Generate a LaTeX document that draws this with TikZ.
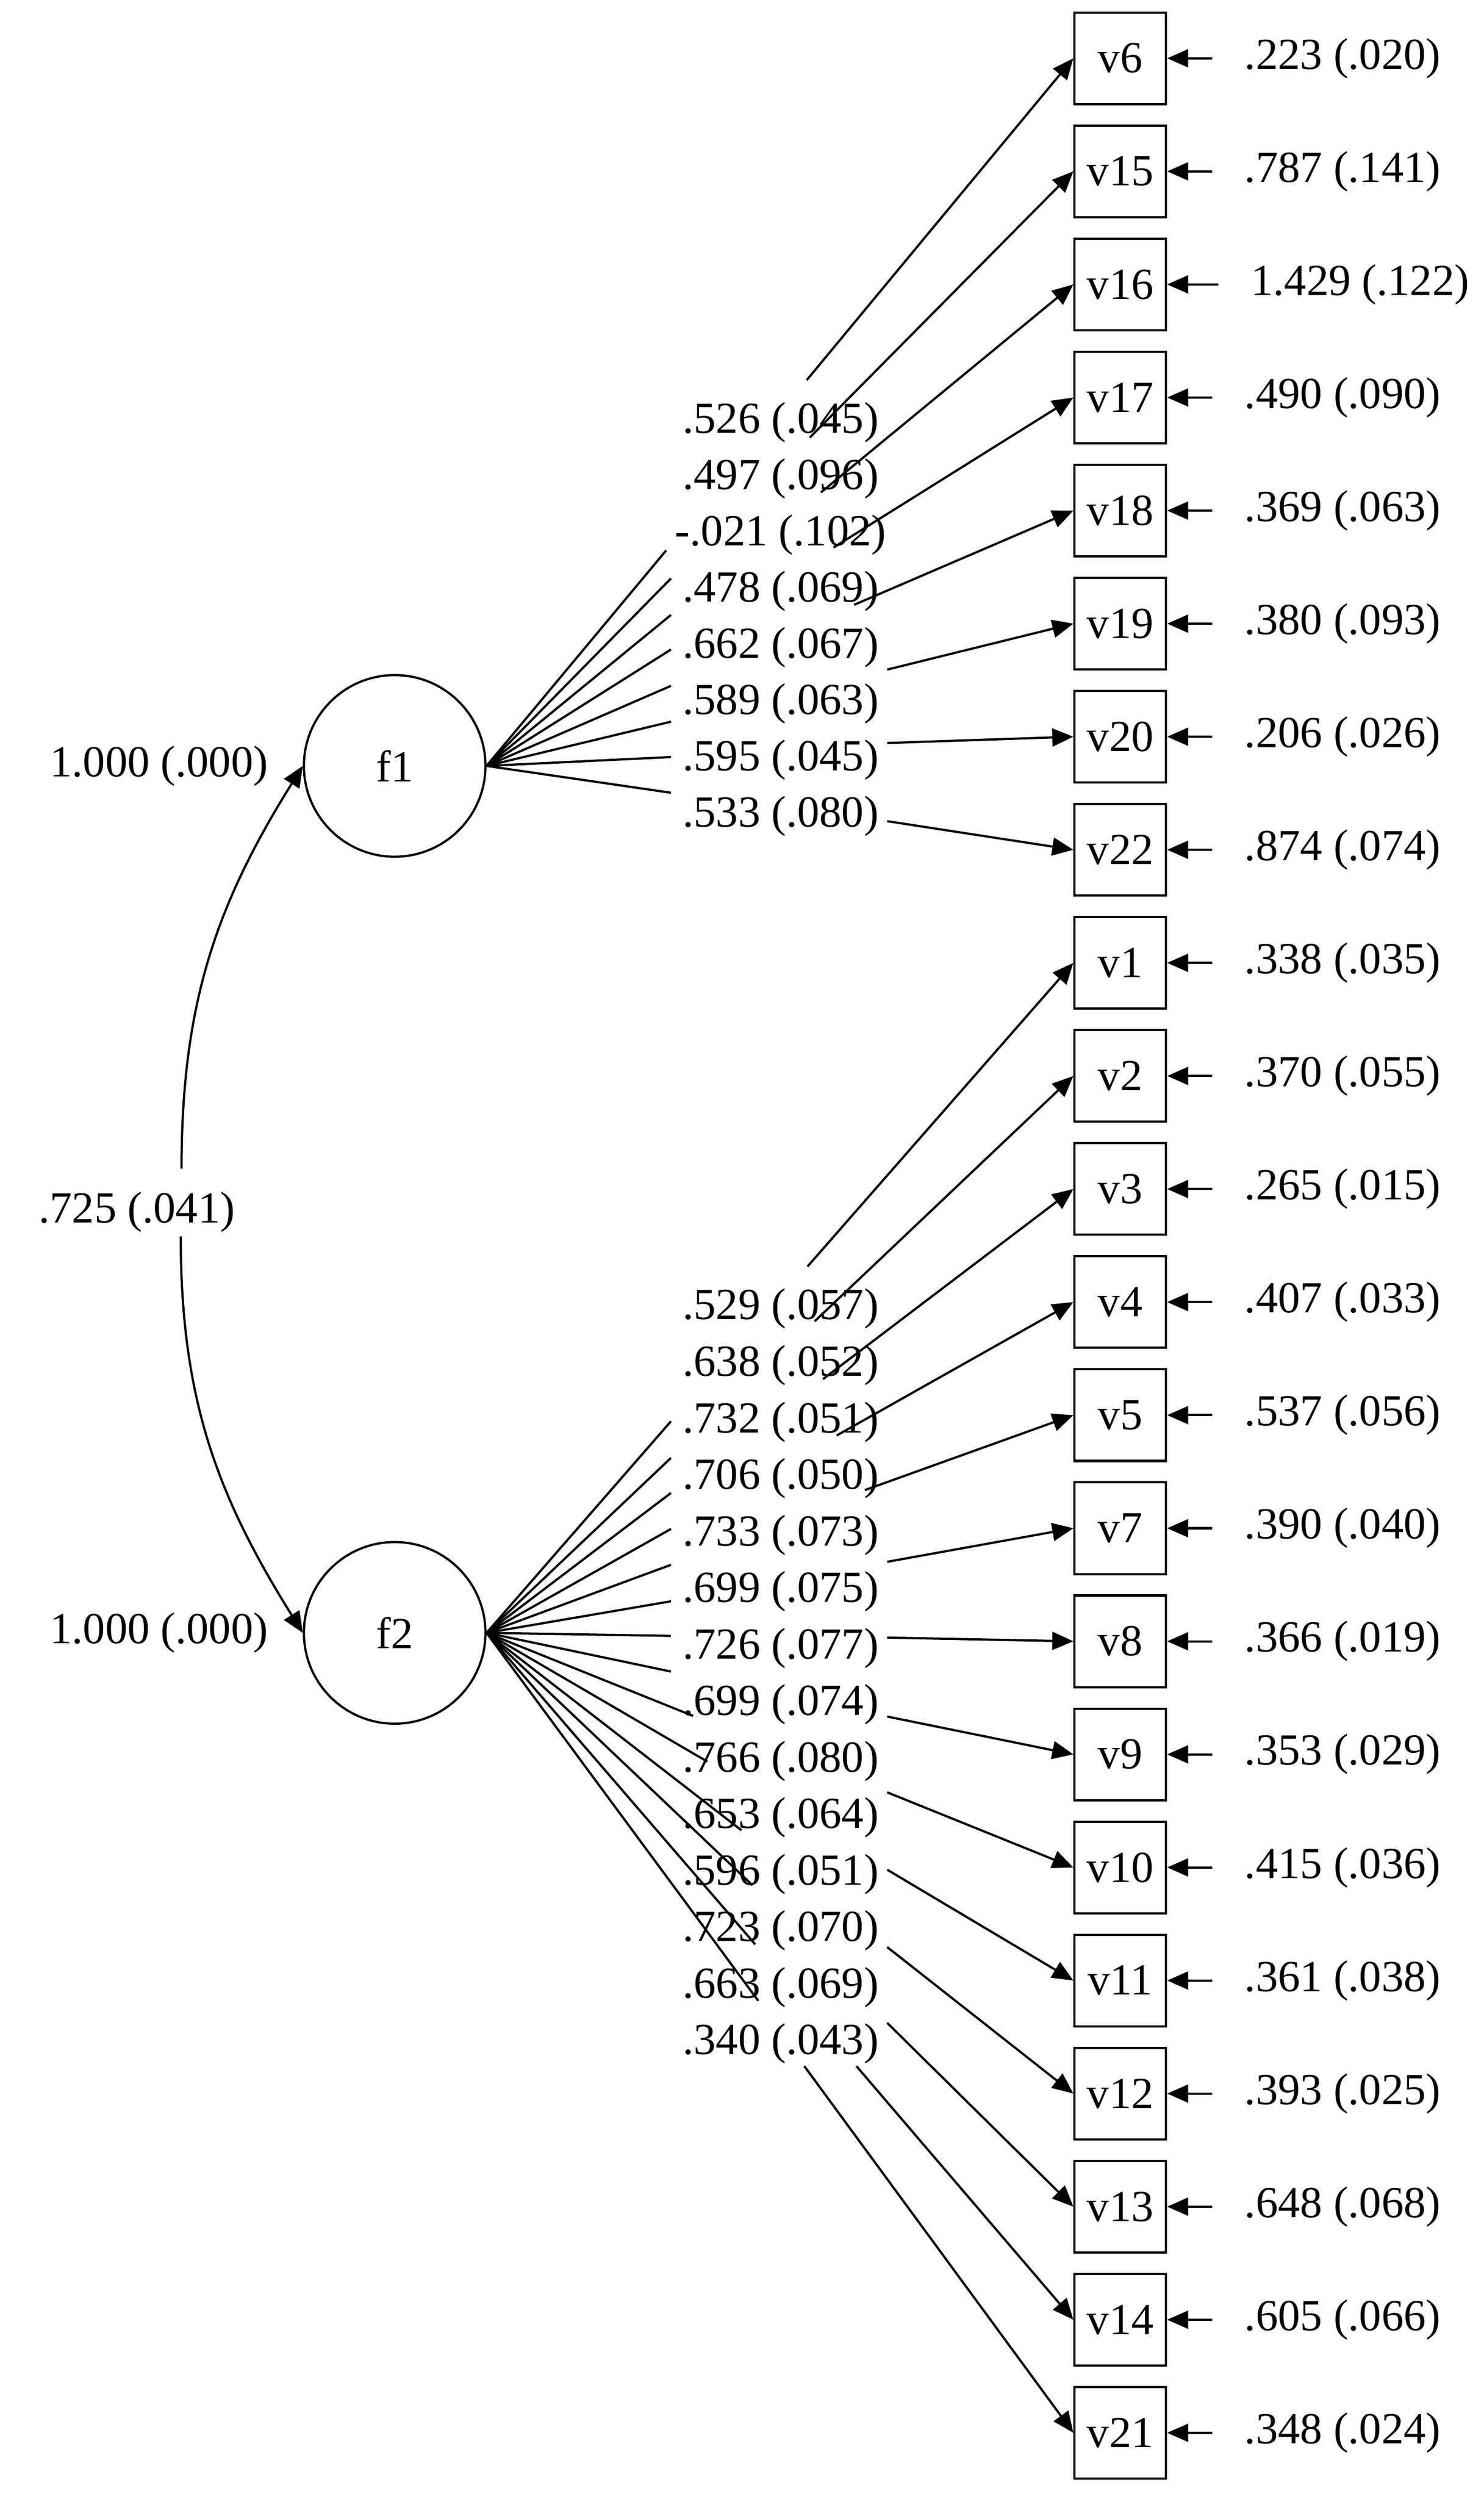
\documentclass[tikz,border=0pt]{standalone}
\usepackage{fontspec}
\setmainfont{Liberation Serif}
\usetikzlibrary{arrows.meta,positioning}

\begin{document}
\begin{tikzpicture}[->,>={Triangle[length=0.2cm,width=0.17cm]},x=0.015cm,y=0.015cm,
        line width=0.6pt,node distance=1.074cm,font=\fontsize{12}{14}\selectfont,
        obs/.style={draw,rectangle,minimum size=0.87cm,inner sep=0pt},
        lat/.style={draw,circle,minimum size=1.725cm,inner sep=0pt},
        est/.style={inner sep=0pt,outer sep=0pt}]

  \useasboundingbox (0,0) rectangle (940,-1582.5);

  % factors
  \node[lat] (f1) at (250,-485) {f1};
  \node[lat] (f2) at (250,-1034) {f2};
  \node[est] (var1) [left=0.33cm of f1] {1.000 (.000)};
  \node[est] (var2) [left=0.33cm of f2] {1.000 (.000)};

  \node[est] (cov) at (86.7,-767.5) {.725 (.041)};
  \coordinate (c1) at (115,-740);
  \coordinate (c2) at (114.5,-783);
  \draw[<-] (f1.west) to[out=238,in=90] (c1);
  \draw[<-] (f2.west) to[out=122,in=-90] (c2);

  % indicators
  \node[obs] (v6) at (709.6,-36.9) {v6};
  \node[obs] (v15) [below of=v6] {v15};
  \node[obs] (v16) [below of=v15] {v16};
  \node[obs] (v17) [below of=v16] {v17};
  \node[obs] (v18) [below of=v17] {v18};
  \node[obs] (v19) [below of=v18] {v19};
  \node[obs] (v20) [below of=v19] {v20};
  \node[obs] (v22) [below of=v20] {v22};
  \node[obs] (v1) [below of=v22] {v1};
  \node[obs] (v2) [below of=v1] {v2};
  \node[obs] (v3) [below of=v2] {v3};
  \node[obs] (v4) [below of=v3] {v4};
  \node[obs] (v5) [below of=v4] {v5};
  \node[obs] (v7) [below of=v5] {v7};
  \node[obs] (v8) [below of=v7] {v8};
  \node[obs] (v9) [below of=v8] {v9};
  \node[obs] (v10) [below of=v9] {v10};
  \node[obs] (v11) [below of=v10] {v11};
  \node[obs] (v12) [below of=v11] {v12};
  \node[obs] (v13) [below of=v12] {v13};
  \node[obs] (v14) [below of=v13] {v14};
  \node[obs] (v21) [below of=v14] {v21};

  % residual variances
  \node[est] (e6) [right=0.737cm of v6] {.223 (.020)};
  \node[est] (e15) [right=0.737cm of v15] {.787 (.141)};
  \node[est] (e16) [right=0.797cm of v16] {1.429 (.122)};
  \node[est] (e17) [right=0.737cm of v17] {.490 (.090)};
  \node[est] (e18) [right=0.737cm of v18] {.369 (.063)};
  \node[est] (e19) [right=0.737cm of v19] {.380 (.093)};
  \node[est] (e20) [right=0.737cm of v20] {.206 (.026)};
  \node[est] (e22) [right=0.737cm of v22] {.874 (.074)};
  \node[est] (e1) [right=0.737cm of v1] {.338 (.035)};
  \node[est] (e2) [right=0.737cm of v2] {.370 (.055)};
  \node[est] (e3) [right=0.737cm of v3] {.265 (.015)};
  \node[est] (e4) [right=0.737cm of v4] {.407 (.033)};
  \node[est] (e5) [right=0.737cm of v5] {.537 (.056)};
  \node[est] (e7) [right=0.737cm of v7] {.390 (.040)};
  \node[est] (e8) [right=0.737cm of v8] {.366 (.019)};
  \node[est] (e9) [right=0.737cm of v9] {.353 (.029)};
  \node[est] (e10) [right=0.737cm of v10] {.415 (.036)};
  \node[est] (e11) [right=0.737cm of v11] {.361 (.038)};
  \node[est] (e12) [right=0.737cm of v12] {.393 (.025)};
  \node[est] (e13) [right=0.737cm of v13] {.648 (.068)};
  \node[est] (e14) [right=0.737cm of v14] {.605 (.066)};
  \node[est] (e21) [right=0.737cm of v21] {.348 (.024)};

  \path[shorten <=0.31cm]
        (e6.west) edge (v6.east)   (e15.west) edge (v15.east)
        (e16.west) edge (v16.east) (e17.west) edge (v17.east)
        (e18.west) edge (v18.east) (e19.west) edge (v19.east)
        (e20.west) edge (v20.east) (e22.west) edge (v22.east)
        (e1.west) edge (v1.east)   (e2.west) edge (v2.east)
        (e3.west) edge (v3.east)   (e4.west) edge (v4.east)
        (e5.west) edge (v5.east)   (e7.west) edge (v7.east)
        (e8.west) edge (v8.east)   (e9.west) edge (v9.east)
        (e10.west) edge (v10.east) (e11.west) edge (v11.east)
        (e12.west) edge (v12.east) (e13.west) edge (v13.east)
        (e14.west) edge (v14.east) (e21.west) edge (v21.east);

  % loadings on f1
  \node[est] (l6) at (494.5,-267.6) {.526 (.045)};
  \node[est] (l15) at (494.5,-303.2) {.497 (.096)};
  \node[est] (l16) at (494.5,-338.8) {-.021 (.102)};
  \node[est] (l17) at (494.5,-374.4) {.478 (.069)};
  \node[est] (l18) at (494.5,-410) {.662 (.067)};
  \node[est] (l19) at (494.5,-445.6) {.589 (.063)};
  \node[est] (l20) at (494.5,-481.2) {.595 (.045)};
  \node[est] (l22) at (494.5,-516.8) {.533 (.080)};

  \coordinate (a6) at (422,-348.5);   \coordinate (b6) at (511,-240.7);
  \coordinate (a15) at (425,-366.3);  \coordinate (b15) at (513,-277);
  \coordinate (a16) at (425,-389.4);  \coordinate (b16) at (520,-311.8);
  \coordinate (a17) at (425,-411.3);  \coordinate (b17) at (528,-346.7);
  \coordinate (a18) at (425,-434.3);  \coordinate (b18) at (541,-383);
  \coordinate (a19) at (425,-457);    \coordinate (b19) at (562,-424);
  \coordinate (a20) at (425,-479.4);  \coordinate (b20) at (562,-470.5);
  \coordinate (a22) at (425,-502);    \coordinate (b22) at (562,-520);

  \path (f1.east) edge[-] (a6)  (b6) edge (v6.west)
        (f1.east) edge[-] (a15) (b15) edge (v15.west)
        (f1.east) edge[-] (a16) (b16) edge (v16.west)
        (f1.east) edge[-] (a17) (b17) edge (v17.west)
        (f1.east) edge[-] (a18) (b18) edge (v18.west)
        (f1.east) edge[-] (a19) (b19) edge (v19.west)
        (f1.east) edge[-] (a20) (b20) edge (v20.west)
        (f1.east) edge[-] (a22) (b22) edge (v22.west);

  % loadings on f2
  \node[est] (l1) at (494.5,-828.8) {.529 (.057)};
  \node[est] (l2) at (494.5,-864.6) {.638 (.052)};
  \node[est] (l3) at (494.5,-900.4) {.732 (.051)};
  \node[est] (l4) at (494.5,-936.2) {.706 (.050)};
  \node[est] (l5) at (494.5,-972) {.733 (.073)};
  \node[est] (l7) at (494.5,-1007.8) {.699 (.075)};
  \node[est] (l8) at (494.5,-1043.6) {.726 (.077)};
  \node[est] (l9) at (494.5,-1079.4) {.699 (.074)};
  \node[est] (l10) at (494.5,-1115.2) {.766 (.080)};
  \node[est] (l11) at (494.5,-1151) {.653 (.064)};
  \node[est] (l12) at (494.5,-1186.8) {.596 (.051)};
  \node[est] (l13) at (494.5,-1222.6) {.723 (.070)};
  \node[est] (l14) at (494.5,-1258.4) {.663 (.069)};
  \node[est] (l21) at (494.5,-1294.2) {.340 (.043)};

  \coordinate (a1) at (425,-900);     \coordinate (b1) at (511.5,-802);
  \coordinate (a2) at (425,-923.2);   \coordinate (b2) at (516,-836.7);
  \coordinate (a3) at (425,-945.4);   \coordinate (b3) at (521.3,-873.3);
  \coordinate (a4) at (425,-968.2);   \coordinate (b4) at (530,-909);
  \coordinate (a5) at (425,-990.9);   \coordinate (b5) at (547.8,-943.6);
  \coordinate (a7) at (425,-1014);    \coordinate (b7) at (562,-989);
  \coordinate (a8) at (425,-1035.9);  \coordinate (b8) at (562,-1037);
  \coordinate (a9) at (425,-1058.5);  \coordinate (b9) at (562,-1087);
  \coordinate (a10) at (439,-1086.6); \coordinate (b10) at (562,-1135);
  \coordinate (a11) at (448,-1115.5); \coordinate (b11) at (562,-1184);
  \coordinate (a12) at (469.6,-1159); \coordinate (b12) at (562,-1233);
  \coordinate (a13) at (476.6,-1193.8); \coordinate (b13) at (562,-1281);
  \coordinate (a14) at (478.4,-1231.3); \coordinate (b14) at (542.5,-1308.4);
  \coordinate (a21) at (480.3,-1267); \coordinate (b21) at (509.5,-1308.4);

  \path (f2.east) edge[-] (a1)  (b1) edge (v1.west)
        (f2.east) edge[-] (a2)  (b2) edge (v2.west)
        (f2.east) edge[-] (a3)  (b3) edge (v3.west)
        (f2.east) edge[-] (a4)  (b4) edge (v4.west)
        (f2.east) edge[-] (a5)  (b5) edge (v5.west)
        (f2.east) edge[-] (a7)  (b7) edge (v7.west)
        (f2.east) edge[-] (a8)  (b8) edge (v8.west)
        (f2.east) edge[-] (a9)  (b9) edge (v9.west)
        (f2.east) edge[-] (a10) (b10) edge (v10.west)
        (f2.east) edge[-] (a11) (b11) edge (v11.west)
        (f2.east) edge[-] (a12) (b12) edge (v12.west)
        (f2.east) edge[-] (a13) (b13) edge (v13.west)
        (f2.east) edge[-] (a14) (b14) edge (v14.west)
        (f2.east) edge[-] (a21) (b21) edge (v21.west);

\end{tikzpicture}
\end{document}
